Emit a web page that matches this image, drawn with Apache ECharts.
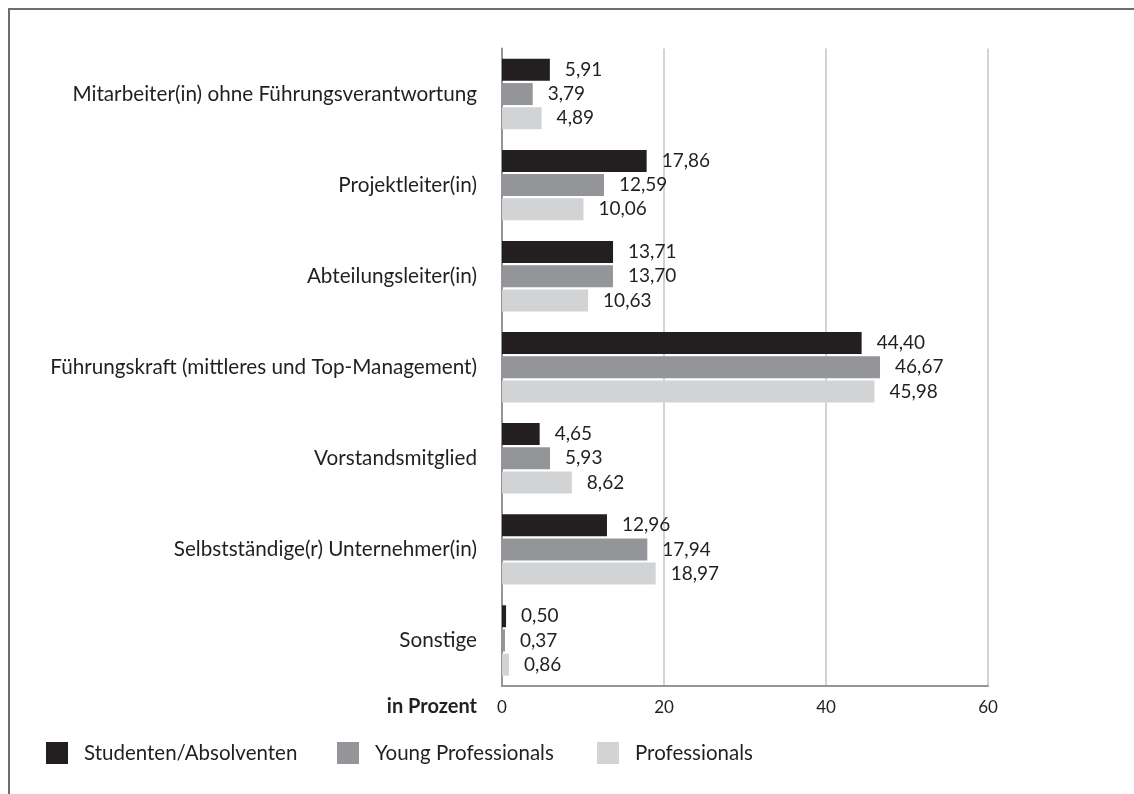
<!DOCTYPE html>
<html>
<head>
<meta charset="utf-8">
<script src="https://cdn.jsdelivr.net/npm/echarts@6/dist/echarts.min.js"></script>
<style>
  html, body { margin: 0; padding: 0; background: #fff; }
  #wrap { position: relative; width: 1134px; height: 794px; overflow: hidden; }
  #frame { position: absolute; left: 8px; top: 8px; width: 1300px; height: 900px;
           border-left: 2px solid #6d6e71; border-top: 2px solid #6d6e71; }
  #chart { position: absolute; left: 0; top: 0; width: 1134px; height: 794px; }
</style>
</head>
<body>
<div id="wrap">
  <div id="frame"></div>
  <div id="chart"></div>
</div>
<script>
// Positionen im Unternehmen, Anteile in Prozent
const categories = [
  'Mitarbeiter(in) ohne Führungsverantwortung',
  'Projektleiter(in)',
  'Abteilungsleiter(in)',
  'Führungskraft (mittleres und Top-Management)',
  'Vorstandsmitglied',
  'Selbstständige(r) Unternehmer(in)',
  'Sonstige'
];
const seriesNames = ['Studenten/Absolventen', 'Young Professionals', 'Professionals'];
const studenten = [5.91, 17.86, 13.71, 44.40, 4.65, 12.96, 0.50];
const youngProfessionals = [3.79, 12.59, 13.70, 46.67, 5.93, 17.94, 0.37];
const professionals = [4.89, 10.06, 10.63, 45.98, 8.62, 18.97, 0.86];
const xTicks = { min: 0, max: 60, interval: 20 };
const axisTitle = 'in Prozent';

const colors = ['#231f20', '#939598', '#d1d3d4'];
const FONT = 'Lato';
const TEXT = '#231f20';
// left edge of each legend entry
const legendLeft = [46, 337, 597];

const fmt = v => v.toFixed(2).replace('.', ',');

function barSeries(name, data, color) {
  return {
    name: name,
    type: 'bar',
    data: data,
    barWidth: 22,
    barGap: '10%',
    itemStyle: { color: color },
    label: {
      show: true,
      position: 'right',
      distance: 15,
      fontFamily: FONT,
      fontSize: 19,
      color: TEXT,
      formatter: p => fmt(p.value)
    },
    emphasis: { disabled: true }
  };
}

const legends = seriesNames.map((name, i) => ({
  data: [name],
  left: legendLeft[i],
  top: 742,
  padding: 0,
  itemWidth: 22,
  itemHeight: 22,
  icon: 'rect',
  selectedMode: false,
  textStyle: { fontFamily: FONT, fontSize: 20.5, color: TEXT, padding: [0, 0, 0, 11] }
}));

const chart = echarts.init(document.getElementById('chart'), null, { renderer: 'canvas' });
chart.setOption({
  animation: false,
  backgroundColor: 'transparent',
  textStyle: { fontFamily: FONT },
  grid: { left: 502, right: 146, top: 48.5, bottom: 108, containLabel: false },
  legend: legends,
  xAxis: {
    type: 'value',
    min: xTicks.min,
    max: xTicks.max,
    interval: xTicks.interval,
    name: '{t|' + axisTitle + '}',
    nameLocation: 'start',
    nameGap: 25,
    nameTextStyle: {
      verticalAlign: 'middle',
      rich: {
        t: { fontFamily: FONT, fontSize: 20, fontWeight: 'bold', color: TEXT,
             lineHeight: 20, padding: [42, 0, 0, 0] }
      }
    },
    axisLine: { show: true, lineStyle: { color: '#939598', width: 2 } },
    axisTick: { show: false },
    axisLabel: { margin: 13, fontFamily: FONT, fontSize: 17, color: TEXT },
    splitLine: { show: true, lineStyle: { color: '#d1d3d4', width: 2 } }
  },
  yAxis: {
    type: 'category',
    data: categories,
    inverse: true,
    axisLine: { show: true, lineStyle: { color: '#939598', width: 2 } },
    axisTick: { show: false },
    axisLabel: { margin: 25, fontFamily: FONT, fontSize: 20.7, color: TEXT }
  },
  series: [
    barSeries(seriesNames[0], studenten, colors[0]),
    barSeries(seriesNames[1], youngProfessionals, colors[1]),
    barSeries(seriesNames[2], professionals, colors[2])
  ]
});
</script>
</body>
</html>
